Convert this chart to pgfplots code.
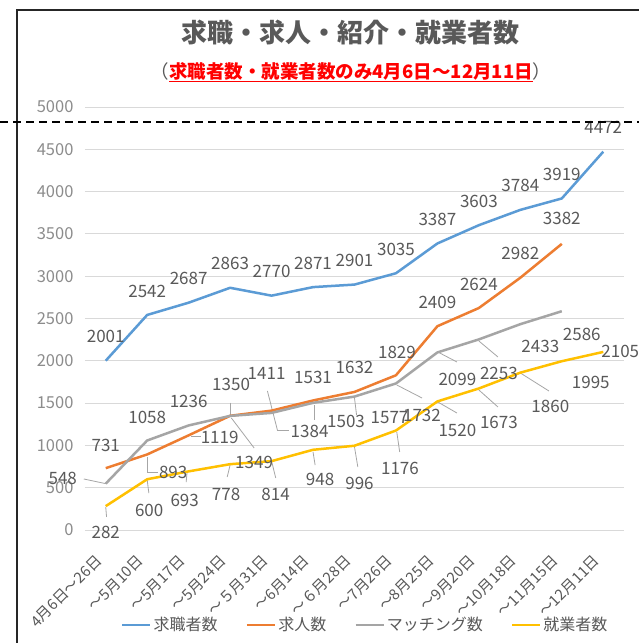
\documentclass[border=0pt]{standalone}
\usepackage{fontspec}
\setmainfont{Noto Sans CJK JP}
\usepackage{pgfplots}
\pgfplotsset{compat=1.18}
\usepackage{pgfplotstable}
\definecolor{cblue}{HTML}{5B9BD5}
\definecolor{corange}{HTML}{ED7D31}
\definecolor{cgray}{HTML}{A5A5A5}
\definecolor{cyellow}{HTML}{FFC000}
\definecolor{labelgray}{HTML}{595959}
\definecolor{tickgray}{HTML}{8C8C8C}
\definecolor{gridgray}{HTML}{D9D9D9}
\definecolor{leadgray}{HTML}{A6A6A6}
\definecolor{subred}{HTML}{FF0000}

% 求職者数
\pgfplotstableread{
x y dx dy
0 2001 0 24
1 2542 0 24
2 2687 0 24
3 2863 0 24
4 2770 0 24
5 2871 0 24
6 2901 0 24
7 3035 0 24
8 3387 0 24
9 3603 0 24
10 3784 0 24
11 3919 0 24
12 4472 0 24
}\tblA
% 求人数
\pgfplotstableread{
x y dx dy
0 731 0 23
1 893 26 -18
2 1119 31 -2
3 1350 1 31
4 1411 -5 37
5 1531 0 23
6 1632 0 24
7 1829 1 23
8 2409 0 24
9 2624 0 24
10 2982 0 24
11 3382 0 25
}\tblB
% マッチング数
\pgfplotstableread{
x y dx dy
0 548 -43 5
1 1058 0 23
2 1236 0 24
3 1349 24 -47
4 1384 38 -19
5 1503 33 -19
6 1577 35 -21
7 1732 26 -32
8 2099 20 -27
9 2253 20 -34
10 2433 20 -22
11 2586 20 -23
}\tblC
% 就業者数
\pgfplotstableread{
x y dx dy
0 282 0 -26
1 600 2 -31
2 693 -4 -29
3 778 -4 -30
4 814 4 -33
5 948 7 -30
6 996 5 -38
7 1176 4 -38
8 1520 20 -29
9 1673 20 -34
10 1860 30 -34
11 1995 29 -21
12 2105 17 0
}\tblD
% leader lines (data units)
\pgfplotstableread{
x y u v
-0.53 603 0.53 -55
1.0 863 0 -177
1.0 686 0.25 0
2.06 1111 0.24 0
3.0 1505 0 -145
3.03 1324 0.55 -355
3.90 1643 0.24 -461
4.14 1182 0.29 0
5.03 1478 0 -178
6.0 1560 0.05 -201
7.02 1714 0.61 -154
8.01 2104 0.46 -118
9.0 2234 0.46 -189
8.01 1513 0.46 -130
9.0 1655 0.46 -201
10.0 1856 0.69 -213
7.02 1158 0.07 -236
6.0 981 0.08 -236
5.0 922 0.05 -154
4.0 815 0.1 -200
3.0 768 -0.07 -141
1.96 674 -0.02 -107
1.0 591 0.04 -154
0 272 0.02 -118
}\tblL

\begin{document}
\begin{tikzpicture}
\path[use as bounding box] (0pt,0pt) rectangle (639pt,643pt);
\fill[white] (0pt,0pt) rectangle (639pt,643pt);
\draw[line width=1.6pt, black!85] (17pt,0pt) -- (17pt,633pt) -- (639pt,633pt);
\begin{axis}[
  at={(85pt,113pt)}, anchor=south west,
  scale only axis, width=539pt, height=423pt,
  xmin=-0.5, xmax=12.5, ymin=0, ymax=5000,
  clip=false,
  axis line style={draw=none},
  tick style={draw=none},
  ymajorgrids, grid style={gridgray, line width=0.9pt},
  ytick={0,500,...,5000},
  xtick={0,...,12},
  xticklabels={4月6日～26日,～5月10日,～5月17日,～5月24日,～５月31日,～6月14日,～６月28日,～7月26日,～8月25日,～9月20日,～10月18日,～11月15日,～12月11日},
  /pgf/number format/assume math mode=true,
  /pgf/number format/1000 sep={},
  yticklabel style={text=tickgray, font=\fontsize{16.5}{18}\selectfont, xshift=-8pt},
  xticklabel style={text=labelgray, font=\fontsize{15}{17}\selectfont, xshift=-4pt, yshift=-26pt, rotate=45, anchor=east},
  legend style={at={(0.52,-0.2246)}, anchor=center, draw=none, fill=none,
    font=\fontsize{16}{18}\selectfont, text=labelgray, legend columns=4,
    /tikz/every even column/.append style={column sep=26pt}},
  legend image code/.code={\draw[line width=2.6pt] (0pt,0pt) -- (28pt,0pt);},
  every axis plot/.append style={line width=2.5pt, line join=round, mark=none},
  nodes near coords,
  point meta=explicit symbolic,
  visualization depends on={\thisrow{dx} \as \dx},
  visualization depends on={\thisrow{dy} \as \dy},
  every node near coord/.append style={text=labelgray, font=\fontsize{17}{19}\selectfont, anchor=center, xshift=\dx pt, yshift=\dy pt, inner sep=0pt},
]
\addplot[quiver={u=\thisrow{u}, v=\thisrow{v}}, draw=leadgray, line width=0.8pt, nodes near coords={}, forget plot] table[x=x, y=y, meta=x, visualization depends on={\thisrow{u}\as\dx}, visualization depends on={\thisrow{u}\as\dy}] \tblL;
\addplot[cblue] table[x=x, y=y, meta=y] \tblA;
\addlegendentry{求職者数}
\addplot[corange] table[x=x, y=y, meta=y] \tblB;
\addlegendentry{求人数}
\addplot[cgray] table[x=x, y=y, meta=y] \tblC;
\addlegendentry{マッチング数}
\addplot[cyellow] table[x=x, y=y, meta=y] \tblD;
\addlegendentry{就業者数}
\end{axis}
\draw[line width=1.8pt, dash pattern=on 8pt off 5pt] (0pt,521pt) -- (639pt,521pt);
\node[text=labelgray, font=\bfseries\fontsize{26}{30}\selectfont] at (350pt,610pt) {求職・求人・紹介・就業者数};
\node[font=\fontsize{18.5}{22}\selectfont] at (351pt,571pt) {{\color{labelgray}（}{\color{subred}\bfseries\underline{求職者数・就業者数のみ4月6日～12月11日}}{\color{labelgray}）}};
\end{tikzpicture}
\end{document}
